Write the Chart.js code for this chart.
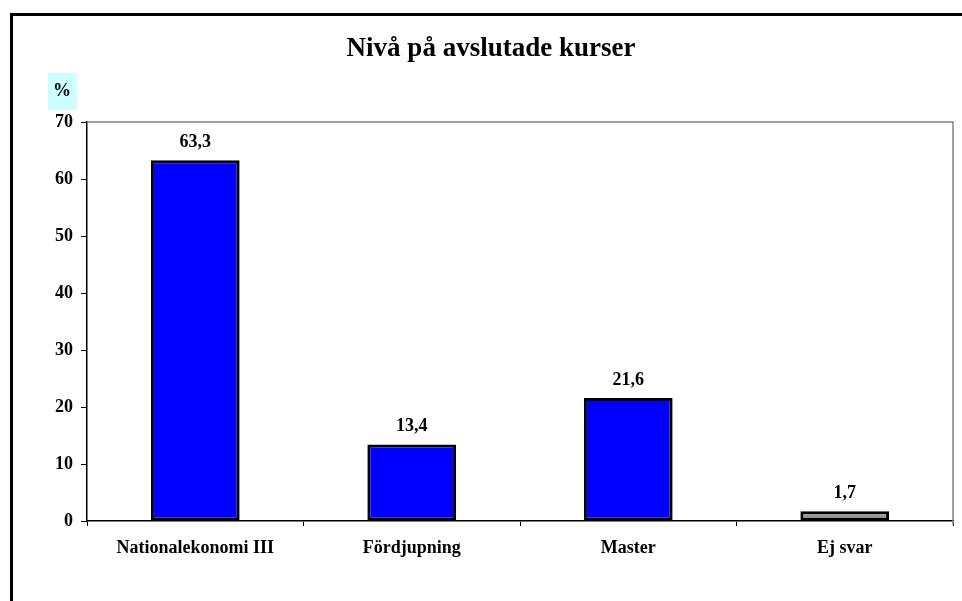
<!DOCTYPE html>
<html>
<head>
<meta charset="utf-8">
<script src="https://cdn.jsdelivr.net/npm/chart.js@4/dist/chart.umd.min.js"></script>
<style>
  html, body { margin: 0; padding: 0; background: #fff; overflow: hidden; }
  #wrap { position: relative; width: 962px; height: 601px; }
  #frame { position: absolute; left: 10px; top: 13px; width: 1000px; height: 700px; border: 3px solid #000; }
  #graf { position: absolute; left: 0; top: 0; }
</style>
</head>
<body>
<div id="wrap">
  <div id="frame"></div>
  <canvas id="graf" width="962" height="601"></canvas>
</div>
<script>
// data
const kurser = ["Nationalekonomi III", "Fördjupning", "Master", "Ej svar"];
const procent = [63.3, 13.4, 21.6, 1.7];
const farger = ["#0000FF", "#0000FF", "#0000FF", "#999999"];
const yTicks = [0, 10, 20, 30, 40, 50, 60, 70];

const serif = "'Liberation Serif', 'Times New Roman', serif";

// titre, label % et valeurs au dessus des barres
const texter = {
  id: 'texter',
  afterDraw(chart) {
    const c = chart.ctx;
    const a = chart.chartArea;
    c.save();
    // cadre gris haut + droite
    c.strokeStyle = '#808080';
    c.lineWidth = 1.5;
    c.beginPath();
    c.moveTo(a.left, a.top);
    c.lineTo(a.right, a.top);
    c.lineTo(a.right, a.bottom + 4);
    c.stroke();

    c.fillStyle = '#000';
    c.textAlign = 'center';
    c.textBaseline = 'middle';
    c.font = 'bold 27px ' + serif;
    c.fillText('Nivå på avslutade kurser', 491, 49);

    c.fillStyle = '#CCFFFF';
    c.fillRect(48, 73, 29, 37);
    c.fillStyle = '#000';
    c.font = 'bold 18px ' + serif;
    c.fillText('%', 62, 91);

    const meta = chart.getDatasetMeta(0);
    meta.data.forEach((bar, i) => {
      c.fillText(procent[i].toFixed(1).replace('.', ','), bar.x, bar.y - 18);
    });
    c.restore();
  }
};

new Chart(document.getElementById('graf'), {
  type: 'bar',
  data: {
    labels: kurser,
    datasets: [{
      data: procent,
      backgroundColor: farger,
      borderColor: '#000',
      borderWidth: 3,
      borderSkipped: false,
      barPercentage: 0.41,
      categoryPercentage: 1
    }]
  },
  options: {
    responsive: false,
    animation: false,
    layout: { padding: { left: 0, right: 9, top: 122, bottom: 0 } },
    plugins: { legend: { display: false }, tooltip: { enabled: false } },
    scales: {
      x: {
        afterFit(s) { s.height = 80; },
        grid: { drawOnChartArea: false, drawTicks: true, tickLength: 5, color: '#000', offset: true },
        border: { color: '#000', width: 1.5 },
        ticks: { color: '#000', padding: 12, font: { family: serif, size: 18, weight: 'bold' } }
      },
      y: {
        min: 0, max: 70,
        afterFit(s) { s.width = 87; },
        afterBuildTicks(s) { s.ticks = yTicks.map(v => ({ value: v })); },
        grid: { drawOnChartArea: false, drawTicks: true, tickLength: 6, color: '#000' },
        border: { color: '#000', width: 1.5 },
        ticks: { color: '#000', padding: 8, font: { family: serif, size: 18, weight: 'bold' } }
      }
    }
  },
  plugins: [texter]
});
</script>
</body>
</html>
